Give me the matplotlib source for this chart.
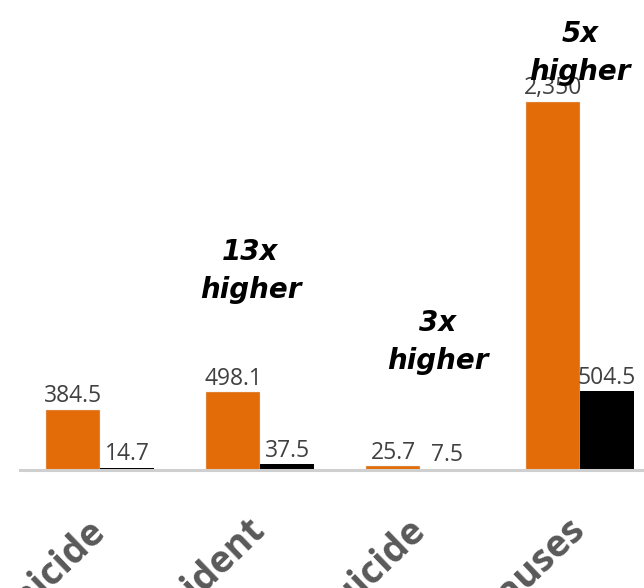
import numpy as np
import matplotlib
matplotlib.use("Agg")
import matplotlib.pyplot as plt

# data
categories = ["Homicide", "Accident", "Suicide", "All Causes"]
group_a = [384.5, 498.1, 25.7, 2350]
group_b = [14.7, 37.5, 7.5, 504.5]
labels_a = ["384.5", "498.1", "25.7", "2,350"]
labels_b = ["14.7", "37.5", "7.5", "504.5"]
notes = ["", "13x\nhigher", "3x\nhigher", "5x\nhigher"]

orange = "#e36c09"
grey_txt = "#404040"
grey_cat = "#595959"

fig = plt.figure(figsize=(6.44, 5.88), dpi=100)
ax = fig.add_axes([20 / 644, 118 / 588, 624 / 644, 470 / 588])

x = np.arange(len(categories))
w = 0.3375
bars_a = ax.bar(x - w / 2, group_a, w, color=orange, edgecolor="#d9d9d9", linewidth=0.3)
bars_b = ax.bar(x + w / 2, group_b, w, color="black", linewidth=0)

for bars, labs in [(bars_a, labels_a), (bars_b, labels_b)]:
    for b, t in zip(bars, labs):
        ax.annotate(t, (b.get_x() + b.get_width() / 2, b.get_height()), xytext=(0, 1),
                    textcoords="offset points", ha="center", va="bottom",
                    fontsize=16.5, color=grey_txt, family="Open Sans")

# "Nx higher" notes
note_pos = [None, (0.94, 1271), (2.11, 817), (3.0, 2663)]
for n, p in zip(notes, note_pos):
    if n:
        ax.text(p[0], p[1], n, ha="center", va="center", fontsize=20,
                fontweight="bold", fontstyle="italic", color="black",
                linespacing=1.45, family="DejaVu Sans")

ax.set_xlim(-0.5, 3.4)
ax.set_ylim(0, 3000)
ax.set_xticks(x)
ax.set_xticklabels(categories, rotation=44, ha="right", va="center",
                   rotation_mode="anchor", fontsize=27, fontweight="bold",
                   color=grey_cat, family="Open Sans")
ax.tick_params(axis="x", length=0, pad=40)
ax.set_yticks([])
for s in ["top", "right", "left"]:
    ax.spines[s].set_visible(False)
ax.spines["bottom"].set_color("#cfcfcf")
ax.spines["bottom"].set_linewidth(2.2)

fig.savefig("out.png", dpi=100)
